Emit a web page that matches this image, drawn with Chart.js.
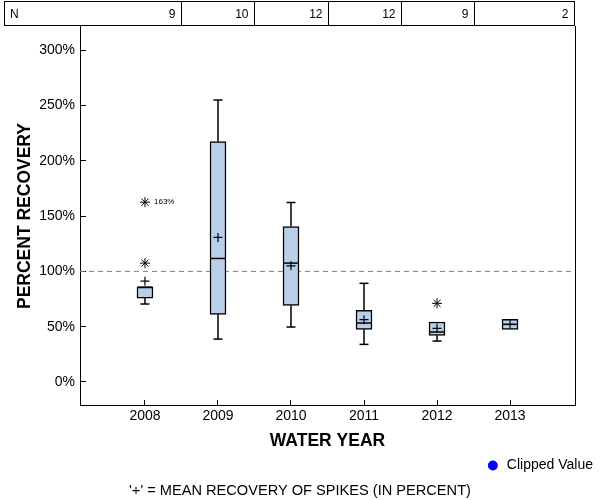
<!DOCTYPE html>
<html><head><meta charset="utf-8">
<script src="https://cdn.jsdelivr.net/npm/chart.js"></script>
<style>html,body{margin:0;padding:0;background:#fff}#wrap{width:600px;height:500px}</style>
</head><body><div id="wrap"><canvas id="c" width="600" height="500"></canvas></div>
<script>
// ---- data ----
const years = [2008, 2009, 2010, 2011, 2012, 2013];
const counts = [9, 10, 12, 12, 9, 2];
const whiskerLow = [70.5, 38.8, 49.7, 34.0, 37.0, 47.6];
const q1 = [75.9, 61.2, 69.3, 47.6, 42.2, 47.6];
const median = [85.8, 111.7, 107.5, 53.3, 45.2, 52.1];
const q3 = [85.8, 217.4, 140.6, 64.8, 54.2, 56.6];
const whiskerHigh = [85.8, 255.0, 162.3, 89.2, 54.2, 56.6];
const means = [91.2, 130.7, 105.0, 56.3, 48.5, 52.1];
const outlierYears = [2008, 2008, 2012];
const outlierValues = [107.5, 162.6, 71.1];
const outlierLabels = ['', '163%', ''];
const referenceValue = 100;
const yTickValues = [0, 50, 100, 150, 200, 250, 300];
const yTickLabels = ['0%', '50%', '100%', '150%', '200%', '250%', '300%'];
const xTickLabels = ['2008', '2009', '2010', '2011', '2012', '2013'];
const countRowLabel = 'N';
const xTitle = 'WATER YEAR';
const yTitle = 'PERCENT RECOVERY';
const legendText = 'Clipped Value';
const footerText = "'+' = MEAN RECOVERY OF SPIKES (IN PERCENT)";

const xMin = 2007.11, xMax = 2013.89, yMin = -21.7, yMax = 321.9;

Chart.defaults.font.family = "'Liberation Sans', Arial, sans-serif";
Chart.defaults.color = '#000';

// ---- derived datasets ----
const boxData = years.map((y, i) => ({x: y, y: [q1[i], q3[i]]}));
const whiskerData = [];
years.forEach((y, i) => {
  whiskerData.push({x: y, y: whiskerLow[i]}, {x: y, y: q1[i]}, {x: y, y: null});
  whiskerData.push({x: y, y: q3[i]}, {x: y, y: whiskerHigh[i]}, {x: y, y: null});
});
const capData = [];
years.forEach((y, i) => {
  if (whiskerLow[i] < q1[i]) capData.push({x: y, y: whiskerLow[i]});
  if (whiskerHigh[i] > q3[i]) capData.push({x: y, y: whiskerHigh[i]});
});
const medianData = years.map((y, i) => ({x: y, y: median[i]}));
const meanData = years.map((y, i) => ({x: y, y: means[i]}));
const outlierData = outlierYears.map((y, i) => ({x: y, y: outlierValues[i]}));
const refData = [{x: xMin, y: referenceValue}, {x: xMax, y: referenceValue}];

// ---- plugin: N table and outlier label ----
const extras = {
  id: 'extras',
  afterDatasetsDraw(chart) {
    const {ctx, scales: {x, y}} = chart;
    ctx.save();
    ctx.fillStyle = '#000';
    ctx.font = "8px 'Liberation Sans', Arial, sans-serif";
    ctx.textAlign = 'left';
    ctx.textBaseline = 'middle';
    outlierLabels.forEach((t, i) => {
      if (!t) return;
      ctx.fillText(t, x.getPixelForValue(outlierYears[i]) + 9, y.getPixelForValue(outlierValues[i]));
    });
    ctx.restore();
  },
  afterDraw(chart) {
    const {ctx, chartArea, scales: {x}} = chart;
    const top = 1.5, bottom = Math.round(chartArea.top) - 0.5, left = 4.5, right = Math.round(chartArea.right) - 0.5;
    ctx.save();
    ctx.strokeStyle = '#000';
    ctx.lineWidth = 1;
    ctx.strokeRect(left, top, right - left, bottom - top);
    const seps = [];
    for (let i = 0; i < years.length - 1; i++) {
      seps.push(Math.round(x.getPixelForValue((years[i] + years[i + 1]) / 2)) + 0.5);
    }
    ctx.beginPath();
    seps.forEach(s => { ctx.moveTo(s, top); ctx.lineTo(s, bottom); });
    ctx.stroke();
    ctx.fillStyle = '#000';
    ctx.font = "12px 'Liberation Sans', Arial, sans-serif";
    ctx.textBaseline = 'middle';
    const midY = (top + bottom) / 2 + 1;
    ctx.textAlign = 'left';
    ctx.fillText(countRowLabel, 10, midY);
    ctx.textAlign = 'right';
    const rights = seps.concat([right]);
    counts.forEach((n, i) => ctx.fillText(String(n), rights[i] - 6, midY));
    ctx.restore();
  }
};

new Chart(document.getElementById('c'), {
  type: 'scatter',
  data: {
    datasets: [
      {label: 'ref', type: 'scatter', showLine: true, data: refData, borderColor: '#808080', borderWidth: 1, borderDash: [5, 4], pointRadius: 0, order: 10},
      {label: 'whiskers', type: 'scatter', showLine: true, spanGaps: false, data: whiskerData, borderColor: '#000', borderWidth: 1.5, pointRadius: 0, order: 6},
      {label: 'boxes', type: 'bar', data: boxData, backgroundColor: '#B9CFE7', borderColor: '#000', borderWidth: 1.5, borderSkipped: false, barThickness: 16, order: 5},
      {label: 'caps', data: capData, pointStyle: 'line', pointRadius: 4.5, pointBorderWidth: 1.5, pointBorderColor: '#000', order: 3},
      {label: 'median', data: medianData, pointStyle: 'line', pointRadius: 7.5, pointBorderWidth: 1.5, pointBorderColor: '#000', order: 3},
      {label: 'mean', data: meanData, pointStyle: 'cross', pointRadius: 4.5, pointBorderWidth: 1.2, pointBorderColor: '#000', order: 2},
      {label: 'outliers', data: outlierData, pointStyle: 'star', pointRadius: 5, pointBorderWidth: 1, pointBorderColor: '#000', order: 1},
      {label: legendText, data: [], pointStyle: 'circle', backgroundColor: '#0000FF', borderColor: '#0000FF', borderWidth: 0, order: 0}
    ]
  },
  options: {
    responsive: false,
    animation: false,
    events: [],
    layout: {padding: {top: 26, left: 0, right: 0, bottom: 0}},
    plugins: {
      legend: {
        display: true, position: 'bottom', align: 'end',
        labels: {usePointStyle: true, boxWidth: 20, boxHeight: 7, padding: 7, color: '#000', font: {size: 14},
          filter: item => item.text === legendText}
      },
      title: {display: true, position: 'bottom', text: footerText, color: '#000', font: {size: 14.6, weight: 'normal'}, padding: {top: 0, bottom: 0}},
      tooltip: {enabled: false}
    },
    scales: {
      x: {
        type: 'linear', min: xMin, max: xMax, offset: false,
        afterBuildTicks: s => { s.ticks = years.map(v => ({value: v})); },
        ticks: {callback: v => xTickLabels[years.indexOf(v)], font: {size: 14}, color: '#000', padding: 8, maxRotation: 0, autoSkip: false},
        grid: {drawOnChartArea: false, color: '#000', tickLength: -6, offset: false},
        border: {color: '#000', width: 1},
        title: {display: true, text: xTitle, color: '#000', font: {size: 17.5, weight: 'bold'}, padding: {top: 0, bottom: 0}},
        afterFit: s => { s.height = 45.5; }
      },
      y: {
        type: 'linear', position: 'left', min: yMin, max: yMax,
        afterBuildTicks: s => { s.ticks = yTickValues.map(v => ({value: v})); },
        ticks: {callback: v => yTickLabels[yTickValues.indexOf(v)], font: {size: 14}, color: '#000', padding: 11, autoSkip: false},
        grid: {drawOnChartArea: false, color: '#000', tickLength: -6},
        border: {color: '#000', width: 1},
        title: {display: true, text: yTitle, color: '#000', font: {size: 17.5, weight: 'bold'}, padding: {top: 15, bottom: 0}},
        afterFit: s => { s.width = 80; }
      },
      y2: {
        type: 'linear', position: 'right', display: true,
        grid: {display: false}, ticks: {display: false},
        border: {display: true, color: '#000', width: 1},
        afterFit: s => { s.width = 25; }
      }
    }
  },
  plugins: [extras]
});
</script>
</body></html>
